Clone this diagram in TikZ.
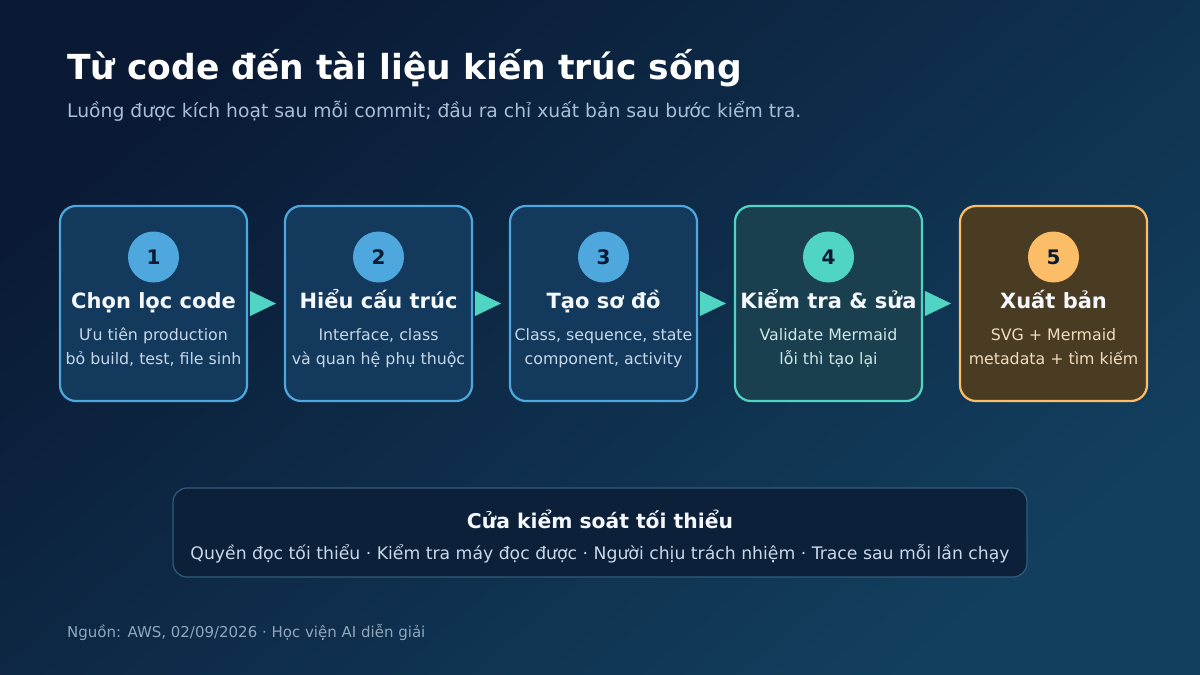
\documentclass[tikz,border=0pt]{standalone}
\usepackage{fontspec}
\setmainfont{DejaVu Sans}
\usetikzlibrary{arrows.meta}
\definecolor{bgA}{HTML}{0A1A35}
\definecolor{bgB}{HTML}{123F5E}
\definecolor{blueFill}{HTML}{13395C}
\definecolor{blueLine}{HTML}{4EA8DE}
\definecolor{tealFill}{HTML}{1A4050}
\definecolor{tealLine}{HTML}{50D5C4}
\definecolor{orFill}{HTML}{4A3B23}
\definecolor{orLine}{HTML}{FBBD68}
\definecolor{numCol}{HTML}{0B1B33}
\definecolor{ttlCol}{HTML}{F4F7FB}
\definecolor{dBlue}{HTML}{C6D7EA}
\definecolor{dTeal}{HTML}{CDE8E6}
\definecolor{dOr}{HTML}{F1DCBC}
\definecolor{subCol}{HTML}{A8BFD6}
\definecolor{footCol}{HTML}{8EA7BF}
\definecolor{gateFill}{HTML}{0C2039}
\definecolor{gateLine}{HTML}{315D7A}
\definecolor{gateTxt}{HTML}{C8D8EA}
\definecolor{arrCol}{HTML}{50D5C4}
\begin{document}
\begin{tikzpicture}[x=1pt,y=-1pt,
  stepbox/.style={rectangle, rounded corners=16pt, minimum width=187pt, minimum height=195pt, line width=2.2pt, inner sep=0pt},
  circ/.style={circle, minimum size=51pt, inner sep=0pt, font=\bfseries\fontsize{20}{22}\selectfont, text=numCol},
  ttl/.style={anchor=base, inner sep=0pt, font=\bfseries\fontsize{21}{24}\selectfont, text=ttlCol},
  dsc/.style={anchor=base, inner sep=0pt, font=\fontsize{15.8}{18}\selectfont},
  flow/.style={draw=arrCol, line width=0.3pt, shorten <=4pt, shorten >=8pt, -{Triangle[length=26pt,width=25pt,fill=arrCol]}},
  gate/.style={rectangle, rounded corners=14pt, minimum width=854pt, minimum height=89pt, fill=gateFill, draw=gateLine, line width=1.2pt, inner sep=0pt}
]
\useasboundingbox (0,0) rectangle (1200,675);
\shade[top color=bgA, bottom color=bgB, shading angle=40] (0,0) rectangle (1200,675);

\node[anchor=base west, inner sep=0pt, font=\bfseries\fontsize{34.5}{40}\selectfont, text=white] (title) at (67,79) {Từ code đến tài liệu kiến trúc sống};
\node[anchor=base west, inner sep=0pt, font=\fontsize{18.75}{22}\selectfont, text=subCol] (sub) at (67,117) {Luồng được kích hoạt sau mỗi commit; đầu ra chỉ xuất bản sau bước kiểm tra.};

% boxes
\node[stepbox, fill=blueFill, draw=blueLine] (b1) at (153.5,303.5) {};
\node[stepbox, fill=blueFill, draw=blueLine] (b2) at (378.5,303.5) {};
\node[stepbox, fill=blueFill, draw=blueLine] (b3) at (603.5,303.5) {};
\node[stepbox, fill=tealFill, draw=tealLine] (b4) at (828.5,303.5) {};
\node[stepbox, fill=orFill, draw=orLine] (b5) at (1053.5,303.5) {};

% circles
\node[circ, fill=blueLine] (c1) at (153.5,257) {1};
\node[circ, fill=blueLine] (c2) at (378.5,257) {2};
\node[circ, fill=blueLine] (c3) at (603.5,257) {3};
\node[circ, fill=tealLine] (c4) at (828.5,257) {4};
\node[circ, fill=orLine] (c5) at (1053.5,257) {5};

% titles
\node[ttl] (t1) at (153.5,308) {Chọn lọc code};
\node[ttl] (t2) at (378.5,308) {Hiểu cấu trúc};
\node[ttl] (t3) at (603.5,308) {Tạo sơ đồ};
\node[ttl] (t4) at (828.5,308) {Kiểm tra \& sửa};
\node[ttl] (t5) at (1053.5,308) {Xuất bản};

% descriptions
\node[dsc, text=dBlue] (d1a) at (153.5,340) {Ưu tiên production};
\node[dsc, text=dBlue] (d1b) at (153.5,364) {bỏ build, test, file sinh};
\node[dsc, text=dBlue] (d2a) at (378.5,340) {Interface, class};
\node[dsc, text=dBlue] (d2b) at (378.5,364) {và quan hệ phụ thuộc};
\node[dsc, text=dBlue] (d3a) at (603.5,340) {Class, sequence, state};
\node[dsc, text=dBlue] (d3b) at (603.5,364) {component, activity};
\node[dsc, text=dTeal] (d4a) at (828.5,340) {Validate Mermaid};
\node[dsc, text=dTeal] (d4b) at (828.5,364) {lỗi thì tạo lại};
\node[dsc, text=dOr] (d5a) at (1053.5,340) {SVG + Mermaid};
\node[dsc, text=dOr] (d5b) at (1053.5,364) {metadata + tìm kiếm};

% arrows
\draw[flow] (b1) -- (b2);
\draw[flow] (b2) -- (b3);
\draw[flow] (b3) -- (b4);
\draw[flow] (b4) -- (b5);

% gate box
\node[gate] (g) at (600,532.5) {};
\node[anchor=base, inner sep=0pt, font=\bfseries\fontsize{20.3}{23}\selectfont, text=ttlCol] (gt) at (600,528) {Cửa kiểm soát tối thiểu};
\node[anchor=base, inner sep=0pt, font=\fontsize{17.25}{20}\selectfont, text=gateTxt] (gl) at (600,559) {Quyền đọc tối thiểu · Kiểm tra máy đọc được · Người chịu trách nhiệm · Trace sau mỗi lần chạy};

\node[anchor=base west, inner sep=0pt, font=\fontsize{15}{17}\selectfont, text=footCol] (foot) at (67,637) {Nguồn: AWS, 02/09/2026 · Học viện AI diễn giải};
\end{tikzpicture}
\end{document}
